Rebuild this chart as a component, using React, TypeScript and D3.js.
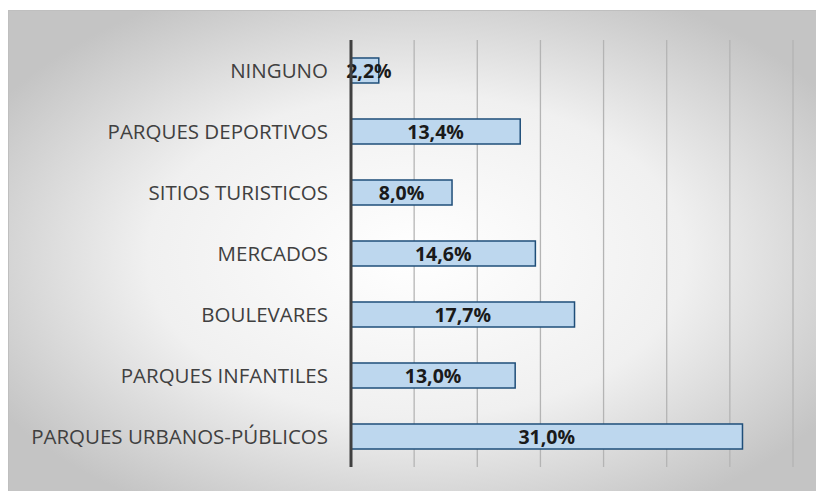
import React from "react";
import * as d3 from "d3";

const categories = [
  "NINGUNO",
  "PARQUES DEPORTIVOS",
  "SITIOS TURISTICOS",
  "MERCADOS",
  "BOULEVARES",
  "PARQUES INFANTILES",
  "PARQUES URBANOS-PÚBLICOS",
];
const values = [2.2, 13.4, 8.0, 14.6, 17.7, 13.0, 31.0];
const xTicks = [0, 5, 10, 15, 20, 25, 30, 35];

const W = 816;
const H = 491;
const left = 351;
const right = 793;
const top = 40;
const bottom = 467;
const font = "'Open Sans', sans-serif";

export default function App() {
  const x = d3.scaleLinear().domain([0, 35]).range([left, right]);
  const y = d3.scaleBand().domain(categories).range([top, bottom]).paddingInner(0.59).paddingOuter(0.295);
  const fmt = (v: number) => v.toFixed(1).replace(".", ",") + "%";
  return (
    <svg width={W} height={H} style={{ position: "absolute", left: 0, top: 0 }}>
      <defs>
        <radialGradient id="bg" cx="50%" cy="50%" r="60%">
          <stop offset="0%" stopColor="#ffffff" />
          <stop offset="55%" stopColor="#f0f0f0" />
          <stop offset="100%" stopColor="#c4c4c4" />
        </radialGradient>
      </defs>
      <rect x={0} y={0} width={W} height={H} fill="#ffffff" />
      <rect x={8.5} y={10.5} width={W} height={H} fill="url(#bg)" stroke="#bfbfbf" strokeWidth={1} />
      {xTicks.slice(1).map((t) => (
        <line key={t} x1={x(t)} x2={x(t)} y1={top} y2={bottom} stroke="#b4b4b4" strokeWidth={1.3} />
      ))}
      {categories.map((c, i) => {
        const by = y(c)!;
        const bh = y.bandwidth();
        return (
          <g key={c}>
            <rect x={x(0)} y={by} width={x(values[i]) - x(0)} height={bh} fill="#bdd7ee" stroke="#1f4e79" strokeWidth={1.5} />
            <text x={328} y={by + bh / 2} dy="0.36em" textAnchor="end" fontFamily={font} fontSize={20.5} fill="#404040">
              {c}
            </text>
            <text x={(x(0) + x(values[i])) / 2 + (values[i] < 5 ? 4 : 0)} y={by + bh / 2} dy="0.37em" textAnchor="middle" fontFamily={font} fontSize={19.5} fontWeight="bold" fill="#1a1a1a">
              {fmt(values[i])}
            </text>
          </g>
        );
      })}
      <line x1={x(0)} x2={x(0)} y1={top} y2={bottom} stroke="#404040" strokeWidth={3} />
    </svg>
  );
}
